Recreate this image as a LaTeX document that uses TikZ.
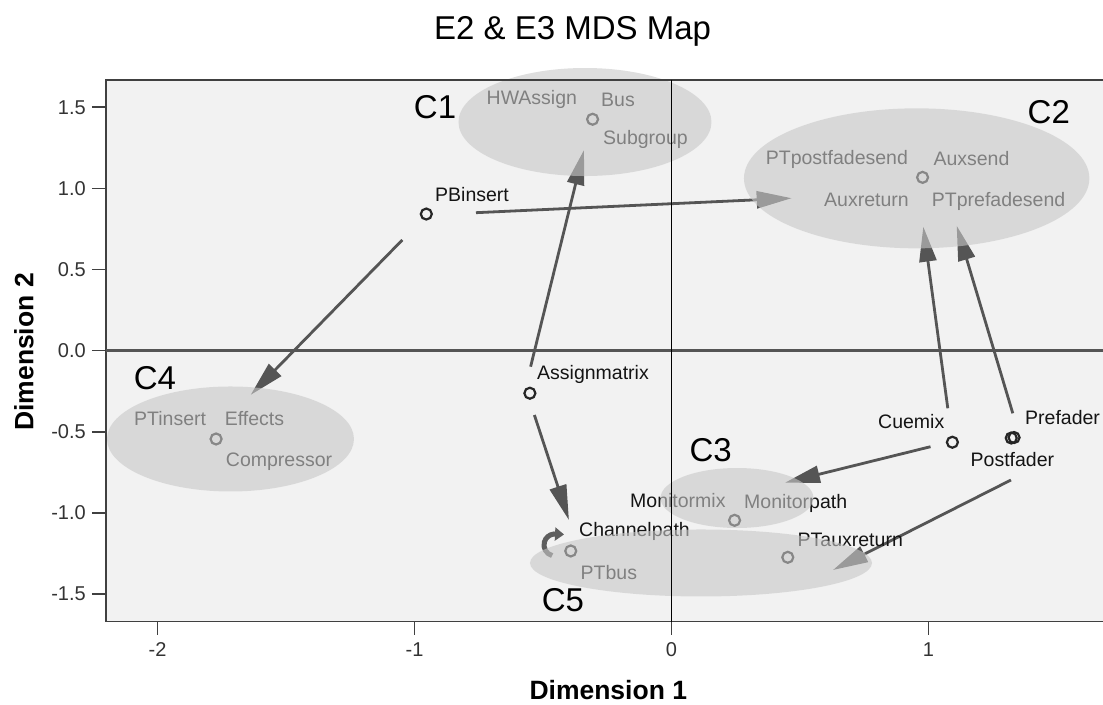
\documentclass[tikz,border=0pt]{standalone}
\usepackage{fontspec}
\setmainfont{Liberation Sans}
\usepackage{tikz}
\usepackage{xcolor}
\usetikzlibrary{shapes.geometric,arrows.meta}

\begin{document}
\begin{tikzpicture}[x=257pt,y=162.3pt,
  mypoint/.style={circle,draw=pointink,line width=2.2pt,inner sep=0,minimum size=11pt},
  mylabel/.style={anchor=west,inner sep=0,text height=14pt,text depth=0pt,text=labelink,font=\fontsize{19.5}{22}\selectfont},
  mycluster/.style={ellipse,inner sep=0,fill=clusterfill,fill opacity=0.6},
  mytag/.style={inner sep=0,font=\fontsize{33}{38}\selectfont},
  mytick/.style={inner sep=0,text=tickink,font=\fontsize{20}{24}\selectfont},
  mytitle/.style={inner sep=0,font=\bfseries\fontsize{26.5}{30}\selectfont},
  myarrow/.style={draw=arrowink,line width=2.8pt,-{Triangle[length=35pt,width=17pt]}},
  myloop/.style={draw=loopink,line width=5pt,-{Triangle[length=9pt,width=13pt]}},
  myframe/.style={draw=frameink,line width=1.6pt}]
\definecolor{plotbg}{HTML}{F2F2F2}
\definecolor{frameink}{HTML}{404040}
\definecolor{zeroink}{HTML}{555555}
\definecolor{arrowink}{HTML}{555555}
\definecolor{loopink}{HTML}{5E5E5E}
\definecolor{clusterfill}{HTML}{C8C8C8}
\definecolor{pointink}{HTML}{262626}
\definecolor{labelink}{HTML}{141414}
\definecolor{tickink}{HTML}{333333}
\useasboundingbox (-2.6128,-2.1830) rectangle (1.6790,2.1608);
\fill[white] (-2.6128,-2.1830) rectangle (1.6790,2.1608);
\fill[plotbg] (-2.2004,-1.6697) rectangle (1.6790,1.6679);
\node[inner sep=0,font=\fontsize{33}{38}\selectfont] (title) at (-0.385,1.970) {E2 \& E3 MDS Map};
  \foreach \name/\x/\y in {pbA/-0.7607/0.8503, cl2A/0.4677/0.9396,
    pbB/-1.0475/0.6821, cl4A/-1.6374/-0.2723,
    assignA/-0.5482/-0.0986, cl1A/-0.3405/1.2366,
    assignB/-0.5335/-0.3962, cl5A/-0.3992/-1.0431,
    cueA/1.0078/-0.5915, cl3A/0.4416/-0.8133,
    postA/1.3210/-0.7967, cl5B/0.6284/-1.3512,
    cueB/1.0751/-0.3549, cl2B/0.9798/0.7640,
    preA/1.3280/-0.3857, cl2C/1.1097/0.7702}
  {  \coordinate (\name) at (\x,\y);}
  \foreach \s/\t in {pbA/cl2A,pbB/cl4A,assignA/cl1A,assignB/cl5A,cueA/cl3A,postA/cl5B,cueB/cl2B,preA/cl2C}
  {  \draw[myarrow] (\s) -- (\t);}
  \foreach \name/\x/\y in {bus/-0.307/1.426, pbinsert/-0.954/0.842, aux/0.977/1.068,
    effects/-1.772/-0.544, assign/-0.551/-0.262, channel/-0.392/-1.234,
    monitor/0.2455/-1.045, ptaux/0.4525/-1.273, cuemix/1.093/-0.564,
    prefader/1.322/-0.538, postfader/1.333/-0.535}
  {  \node[mypoint] (\name) at (\x,\y) {};}
\draw[myloop] ([shift={(-18.6pt,-4.6pt)}]channel.center) arc[start angle=-105,end angle=-265,radius=11pt] -- ++(10pt,-0.5pt);
  \foreach \name/\x/\y/\txt in {lhw/-0.7198/1.557/HWAssign, lbus/-0.2743/1.5447/Bus,
    lsub/-0.2665/1.3106/Subgroup, lpb/-0.9202/0.9593/PBinsert,
    lpost/0.3665/1.1916/PTpostfadesend, lauxs/1.0187/1.1855/Auxsend,
    lauxr/0.5934/0.9328/Auxreturn, lpre/1.0125/0.9328/PTprefadesend,
    lins/-2.0914/-0.4208/PTinsert, leff/-1.7389/-0.4208/Effects,
    lcomp/-1.7342/-0.6673/Compressor, lassign/-0.5233/-0.1374/Assignmatrix,
    lchan/-0.3599/-1.1047/Channelpath, lptbus/-0.3541/-1.3666/PTbus,
    lmix/-0.1615/-0.9199/Monitormix, lpath/0.2821/-0.9304/Monitorpath,
    lptaux/0.4903/-1.1602/PTauxreturn, lcue/0.8035/-0.4375/Cuemix,
    lprefader/1.3755/-0.4116/Prefader, lpostfader/1.1634/-0.6734/Postfader}
  {  \node[mylabel] (\name) at (\x,\y) {\txt};}
  \foreach \name/\x/\y/\w/\h in {cl1/-0.3366/1.409/253/108, cl2/0.954/1.062/345.4/140,
    cl3/0.2549/-0.9076/153/60, cl4/-1.716/-0.544/247/105, cl5/0.1148/-1.308/342/67}
  {  \node[mycluster,minimum width=\w pt,minimum height=\h pt] (\name) at (\x,\y) {};}
  \foreach \name/\x/\y/\txt in {tag1/-0.920/1.501/C1, tag2/1.468/1.4726/C2,
    tag3/0.1525/-0.612/C3, tag4/-2.0097/-0.170/C4, tag5/-0.4222/-1.536/C5}
  {  \node[mytag] (\name) at (\x,\y) {\txt};}
\draw[myframe] (1.679,1.6679) -- (-2.2004,1.6679) -- (-2.2004,-1.6697) -- (1.679,-1.6697);
\draw[draw=zeroink,line width=2.4pt] (-2.2004,0) -- (1.679,0);
\draw[black,line width=1.5pt] (0,1.6679) -- (0,-1.7517);
  \foreach \yv/\yt [count=\i] in {1.5/1.5,1/1.0,0.5/0.5,0/0.0,-0.5/-0.5,-1/-1.0,-1.5/-1.5}
  {  \draw[myframe] (-2.2549,\yv) -- (-2.2004,\yv);
     \node[mytick,anchor=east] (ytick\i) at (-2.2782,\yv) {\yt};}
  \foreach \xv [count=\i] in {-2,-1,0,1}
  {  \draw[myframe] (\xv,-1.6697) -- (\xv,-1.7517);
     \node[mytick] (xtick\i) at (\xv,-1.8441) {\xv};}
\node[mytitle] (dimx) at (-0.2459,-2.0906) {Dimension 1};
\node[mytitle,rotate=90] (dimy) at (-2.5195,-0.008) {Dimension 2};
\end{tikzpicture}
\end{document}
